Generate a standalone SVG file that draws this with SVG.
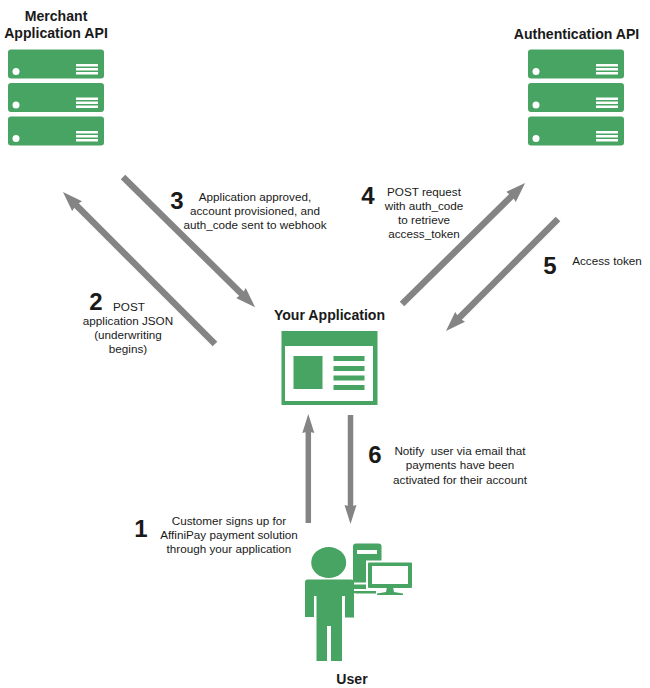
<svg xmlns="http://www.w3.org/2000/svg" width="650" height="688" viewBox="0 0 650 688">
<style>
text{font-family:"Liberation Sans",Arial,sans-serif;fill:#1a1a1a;text-anchor:middle;white-space:pre}
.t{font-size:11.7px}
.h{font-size:14.1px;font-weight:700}
.n{font-size:24px;font-weight:700}
.g{fill:#48a463}
.w{fill:#fff}
.c line{stroke:#848484;stroke-width:5.500;fill:none;marker-end:url(#a)}
.c line.d{stroke-width:6.500;marker-end:url(#b)}
</style>
<defs>
<marker id="a" markerUnits="userSpaceOnUse" markerWidth="20" markerHeight="13" refX="3" refY="6.500" orient="auto">
<path d="M0 .5 L19 6.500 L0 12.500 L1.500 6.500 Z" fill="#848484"/>
</marker>
<marker id="b" markerUnits="userSpaceOnUse" markerWidth="21" markerHeight="15" refX="3" refY="7.500" orient="auto">
<path d="M0 .5 L20 7.500 L0 14.500 L1.500 7.500 Z" fill="#848484"/>
</marker>
<g id="srv">
<rect class="g" x="0" y="0" width="96" height="29" rx="3"/>
<circle class="w" cx="8" cy="22" r="3.500"/>
<rect class="w" x="68" y="14.500" width="22" height="2.500"/>
<rect class="w" x="68" y="18.500" width="22" height="2.500"/>
<rect class="w" x="68" y="22.500" width="22" height="2.500"/>
</g>
</defs>
<rect width="650" height="688" fill="#fff"/>
<g id="connectors" class="c">
<line class="d" x1="215" y1="344" x2="75" y2="204"/>
<line class="d" x1="123" y1="177" x2="243" y2="295.200"/>
<line class="d" x1="402" y1="304" x2="513" y2="194.800"/>
<line class="d" x1="558" y1="219" x2="458" y2="319"/>
<line x1="308.300" y1="523" x2="308.300" y2="430"/>
<line x1="350.500" y1="415" x2="350.500" y2="508"/>
</g>
<g id="merchant">
<text class="h" x="56" y="21">Merchant</text>
<text class="h" x="56" y="38">Application API</text>
<use href="#srv" x="8" y="49.500"/><use href="#srv" x="8" y="83"/><use href="#srv" x="8" y="116.500"/>
</g>
<g id="auth">
<text class="h" x="576.500" y="39">Authentication API</text>
<use href="#srv" x="528" y="49.500"/><use href="#srv" x="528" y="83"/><use href="#srv" x="528" y="116.500"/>
</g>
<g id="app">
<text class="h" x="329.500" y="320">Your Application</text>
<rect class="g" x="281.500" y="331" width="96" height="74"/>
<rect class="w" x="285" y="346" width="88" height="55"/>
<rect class="g" x="293.500" y="356" width="29" height="33"/>
<rect class="g" x="333.500" y="356" width="31" height="5"/>
<rect class="g" x="333.500" y="366" width="31" height="5"/>
<rect class="g" x="333.500" y="375.500" width="31" height="5"/>
<rect class="g" x="333.500" y="385" width="31" height="5"/>
</g>
<g id="user">
<rect class="g" x="353" y="543.500" width="28.500" height="50" rx="3"/>
<rect class="w" x="357" y="550" width="20" height="4"/>
<rect class="w" x="351" y="582.500" width="18" height="2"/>
<rect class="w" x="351" y="589" width="28" height="2"/>
<rect class="g" x="345" y="591" width="30" height="2"/>
<rect class="w" x="366" y="560.500" width="47.500" height="30"/>
<rect class="w" x="376" y="590" width="30" height="6"/>
<rect class="g" x="368" y="562.500" width="44" height="25.500" rx="1"/>
<rect class="w" x="372" y="566" width="36" height="18"/>
<path class="g" d="M387 587h6l1 5 9 1.500v1.500h-26v-1.500l9-1.500Z"/>
<ellipse class="g" cx="328.700" cy="562.500" rx="17.500" ry="15.500"/>
<path class="g" d="M307 579.500H351Q354 579.500 354 582V617.500H345V596H342V661H331V626H327V661H316.500V596H314V617H305V582Q305 579.500 307 579.500Z"/>
<text class="h" x="352" y="684">User</text>
</g>
<g id="labels">
<text class="n" x="141" y="537">1</text>
<text class="t" x="229" y="525">Customer signs up for</text>
<text class="t" x="229" y="539">AffiniPay payment solution</text>
<text class="t" x="229" y="553">through your application</text>
<text class="n" x="96" y="310">2</text>
<text class="t" x="129" y="311">POST</text>
<text class="t" x="128" y="325">application JSON</text>
<text class="t" x="128" y="339">(underwriting</text>
<text class="t" x="128" y="353">begins)</text>
<text class="n" x="177" y="209">3</text>
<text class="t" x="255" y="201">Application approved,</text>
<text class="t" x="255" y="215">account provisioned, and</text>
<text class="t" x="255" y="229">auth_code sent to webhook</text>
<text class="n" x="368" y="204">4</text>
<text class="t" x="424" y="196">POST request</text>
<text class="t" x="424" y="210">with auth_code</text>
<text class="t" x="424" y="224">to retrieve</text>
<text class="t" x="424" y="238">access_token</text>
<text class="n" x="550" y="274">5</text>
<text class="t" x="607" y="265">Access token</text>
<text class="n" x="375" y="463">6</text>
<text class="t" x="460" y="455">Notify  user via email that</text>
<text class="t" x="460" y="469">payments have been</text>
<text class="t" x="460" y="484">activated for their account</text>
</g>
</svg>
